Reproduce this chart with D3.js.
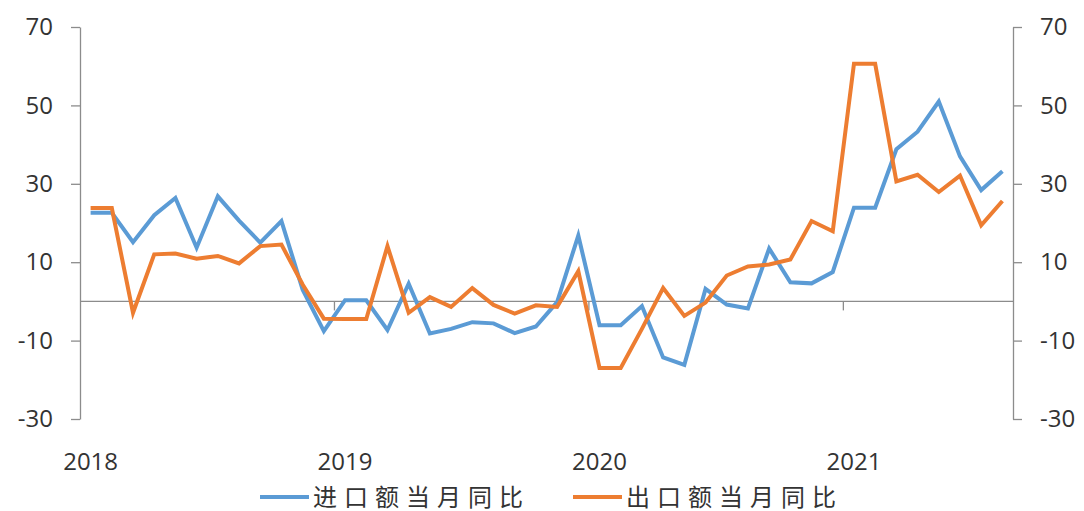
<!DOCTYPE html>
<html><head><meta charset="utf-8">
<script src="https://cdn.jsdelivr.net/npm/d3@7"></script>
<style>
html,body{margin:0;padding:0;background:#fff;}
svg{display:block;}
</style></head>
<body>
<svg id="chart" width="1084" height="511"></svg>
<script>
// Months Jan 2018 .. Aug 2021 (Jan/Feb combined values repeated)
const months = d3.range(44).map(i => {
  const yr = 2018 + Math.floor(i / 12), m = (i % 12) + 1;
  return yr + "-" + (m < 10 ? "0" + m : m);
});
const imports = [22.6, 22.6, 15.1, 22.0, 26.4, 13.7, 26.8, 20.6, 15.0, 20.5, 3.0, -7.6,
                 0.3, 0.3, -7.3, 4.5, -8.2, -7.0, -5.3, -5.6, -8.1, -6.4, -0.2, 16.8,
                 -6.1, -6.1, -1.2, -14.3, -16.2, 3.2, -0.8, -1.8, 13.5, 4.9, 4.6, 7.5,
                 23.9, 23.9, 38.8, 43.3, 51.0, 37.0, 28.4, 33.2];
const exportsYoY = [23.8, 23.8, -2.9, 12.0, 12.2, 10.9, 11.6, 9.7, 14.1, 14.5, 4.3, -4.4,
                 -4.5, -4.5, 14.1, -2.9, 1.1, -1.4, 3.4, -0.9, -3.1, -1.0, -1.4, 7.7,
                 -17.0, -17.0, -7.0, 3.4, -3.7, -0.3, 6.6, 8.9, 9.4, 10.7, 20.5, 17.9,
                 60.6, 60.6, 30.6, 32.3, 27.9, 32.1, 19.4, 25.6];
const yTicks = [70, 50, 30, 10, -10, -30];
const yearLabels = [{i: 0, t: "2018"}, {i: 12, t: "2019"}, {i: 24, t: "2020"}, {i: 36, t: "2021"}];
const yearBoundaries = [12, 24, 36];
const seriesNames = ["进口额当月同比", "出口额当月同比"];
const colors = ["#5B9BD5", "#ED7D31"];

const svg = d3.select("#chart");
const pLeft = 80, pRight = 1013, pTop = 27, pBottom = 419;
const x = d3.scaleBand().domain(d3.range(months.length)).range([pLeft, pRight]).paddingInner(0).paddingOuter(0);
const cx = i => x(i) + x.bandwidth() / 2;
const y = d3.scaleLinear().domain([-30, 70]).range([pBottom, pTop]);

const axisColor = "#8C8C8C";
const textColor = "#333333";
const numFont = "'Open Sans', 'Liberation Sans', sans-serif";
const fmt = d => String(d); // plain hyphen minus, as in the reference

// Left axis
const gl = svg.append("g").attr("transform", `translate(${pLeft},0)`)
  .call(d3.axisLeft(y).tickValues(yTicks).tickFormat(fmt).tickSize(9).tickPadding(18).tickSizeOuter(0));
// Right axis
const gr = svg.append("g").attr("transform", `translate(${pRight},0)`)
  .call(d3.axisRight(y).tickValues(yTicks).tickFormat(fmt).tickSize(9).tickPadding(18).tickSizeOuter(0));
[gl, gr].forEach(g => {
  g.select(".domain").attr("stroke", axisColor).attr("stroke-width", 1.3);
  g.selectAll(".tick line").attr("stroke", axisColor).attr("stroke-width", 1.3);
  g.selectAll(".tick text").attr("fill", textColor).style("font-family", numFont).style("font-size", "24px");
});

// Zero (category) axis
const gx = svg.append("g").attr("transform", `translate(0,${y(0)})`);
gx.append("line").attr("x1", pLeft).attr("x2", pRight).attr("y1", 0).attr("y2", 0)
  .attr("stroke", axisColor).attr("stroke-width", 1.3);
gx.selectAll("line.tk").data(yearBoundaries).join("line").attr("class", "tk")
  .attr("x1", d => x(d)).attr("x2", d => x(d)).attr("y1", 0).attr("y2", 9)
  .attr("stroke", axisColor).attr("stroke-width", 1.3);

// Year labels
svg.append("g").selectAll("text").data(yearLabels).join("text")
  .attr("x", d => cx(d.i)).attr("y", 460).attr("text-anchor", "middle").attr("dominant-baseline", "central")
  .attr("fill", textColor).style("font-family", numFont).style("font-size", "24px").text(d => d.t);

// Lines
const line = d3.line().x((d, i) => cx(i)).y(d => y(d));
[imports, exportsYoY].forEach((s, k) => {
  svg.append("path").datum(s).attr("d", line).attr("fill", "none")
    .attr("stroke", colors[k]).attr("stroke-width", 4).attr("stroke-linejoin", "miter");
});

// Legend
const legX = [260, 573];
const lg = svg.append("g");
seriesNames.forEach((n, k) => {
  lg.append("line").attr("x1", legX[k]).attr("x2", legX[k] + 49).attr("y1", 497).attr("y2", 497)
    .attr("stroke", colors[k]).attr("stroke-width", 4);
  lg.append("text").attr("x", legX[k] + 53).attr("y", 495).attr("dominant-baseline", "central")
    .attr("fill", textColor).style("font-family", "'Noto Sans CJK SC', sans-serif")
    .style("font-size", "24px").style("letter-spacing", "7px").text(n);
});
</script>
</body></html>
